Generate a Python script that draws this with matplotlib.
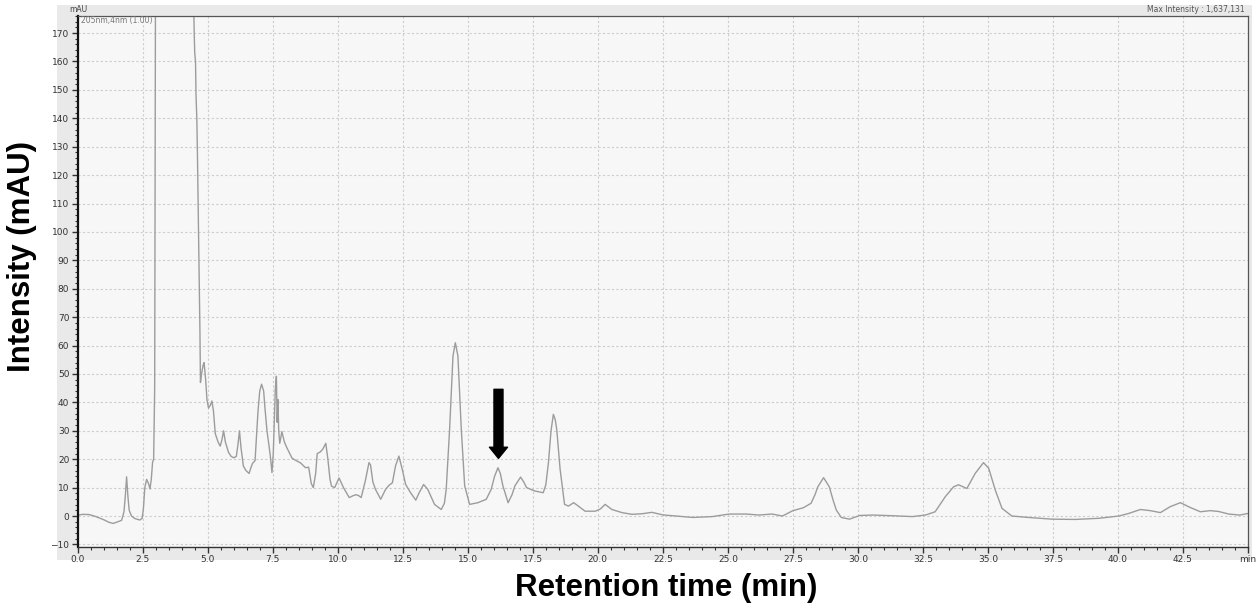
import numpy as np
import matplotlib
matplotlib.use('Agg')
import matplotlib.pyplot as plt
from matplotlib.patches import Rectangle
from matplotlib.ticker import MultipleLocator

# Хроматограмма
rt_min = [0.0, 0.2, 0.45, 0.7, 1.0, 1.2, 1.36, 1.55, 1.69, 1.78, 1.83, 1.88, 1.93, 1.98,
          2.07, 2.2, 2.39, 2.48, 2.53, 2.58, 2.65, 2.72, 2.78, 2.83, 2.88, 2.92, 2.96,
          2.99, 3.1, 3.7, 4.35, 4.46, 4.48, 4.50, 4.53, 4.55, 4.58, 4.60, 4.66, 4.70,
          4.72, 4.76, 4.82, 4.86, 4.92, 4.97, 5.03, 5.1, 5.16, 5.22, 5.29, 5.4, 5.48,
          5.55, 5.61, 5.68, 5.8, 5.9, 6.0, 6.1, 6.16, 6.22, 6.28, 6.37, 6.47, 6.59,
          6.66, 6.72, 6.82, 6.93, 7.0, 7.07, 7.15, 7.2, 7.28, 7.4, 7.47, 7.52, 7.56,
          7.6, 7.64, 7.67, 7.7, 7.73, 7.77, 7.85, 7.95, 8.05, 8.24, 8.4, 8.57, 8.76,
          8.88, 8.98, 9.06, 9.15, 9.21, 9.32, 9.42, 9.54, 9.62, 9.7, 9.76, 9.88, 10.05,
          10.22, 10.44, 10.6, 10.7, 10.8, 10.9, 11.06, 11.2, 11.26, 11.35, 11.45, 11.65,
          11.84, 11.97, 12.1, 12.22, 12.35, 12.48, 12.61, 12.8, 13.0, 13.13, 13.3, 13.46,
          13.72, 13.98, 14.1, 14.17, 14.3, 14.43, 14.52, 14.62, 14.75, 14.88, 15.07,
          15.39, 15.71, 15.9, 16.03, 16.16, 16.25, 16.35, 16.55, 16.7, 16.81, 17.03,
          17.15, 17.26, 17.58, 17.9, 18.0, 18.1, 18.2, 18.29, 18.36, 18.42, 18.55,
          18.72, 18.87, 19.07, 19.25, 19.51, 19.9, 20.1, 20.28, 20.54, 20.93, 21.31,
          21.7, 22.08, 22.5, 23.0, 23.65, 24.4, 25.05, 25.7, 26.2, 26.7, 27.1, 27.5,
          27.9, 28.2, 28.35, 28.46, 28.68, 28.9, 29.05, 29.17, 29.36, 29.68, 30.07,
          30.58, 31.35, 32.1, 32.6, 32.97, 33.36, 33.68, 33.87, 34.19, 34.51, 34.83,
          35.03, 35.28, 35.54, 35.92, 36.56, 37.46, 38.36, 39.26, 40.03, 40.41, 40.86,
          41.24, 41.63, 42.01, 42.4, 42.78, 43.17, 43.55, 43.87, 44.26, 44.68, 45.0]
intensity_mau = [0.3, 0.6, 0.5, -0.2, -1.3, -2.2, -2.6, -2.0, -1.5, 1.5, 7.0, 13.8, 7.0, 2.0,
                 0.0, -0.9, -1.4, -0.8, 3.0, 10.0, 12.9, 11.5, 9.5, 13.0, 19.0, 20.0, 45.0,
                 180.0, 700.0, 1637.0, 700.0, 180.0, 170.0, 163.0, 160.0, 148.0, 140.0, 130.0, 90.0, 65.0,
                 47.0, 50.0, 53.0, 54.0, 48.0, 41.0, 38.0, 39.0, 40.5, 37.0, 29.0, 26.0, 24.6,
                 27.0, 30.0, 26.0, 22.4, 21.0, 20.5, 21.0, 25.0, 30.0, 24.0, 17.6, 16.0, 15.0,
                 17.0, 18.5, 19.5, 36.5, 44.0, 46.4, 44.0, 38.0, 29.9, 21.7, 15.3, 22.0, 33.0,
                 45.0, 49.2, 33.0, 41.0, 30.0, 25.6, 29.7, 26.0, 23.9, 20.4, 19.5, 18.7, 17.0,
                 17.2, 11.5, 10.0, 15.0, 22.0, 22.5, 23.5, 25.6, 20.0, 13.0, 10.5, 10.0, 13.4,
                 10.0, 6.5, 7.2, 7.5, 7.2, 6.5, 12.4, 18.8, 18.0, 12.0, 9.4, 5.9,
                 9.4, 10.8, 11.7, 17.6, 21.1, 16.4, 11.1, 8.2, 5.6, 8.2, 11.1, 9.4,
                 4.1, 2.3, 4.5, 9.4, 30.5, 56.3, 61.0, 56.3, 30.5, 10.6, 4.1,
                 4.7, 5.9, 9.4, 14.0, 17.0, 15.0, 10.6, 4.7, 7.5, 10.6, 13.7,
                 12.0, 10.0, 8.8, 8.2, 11.0, 18.7, 30.0, 35.8, 34.0, 30.5, 16.4,
                 4.1, 3.5, 4.7, 3.5, 1.7, 1.7, 2.5, 4.1, 2.3, 1.2, 0.6,
                 0.8, 1.3, 0.4, 0.0, -0.5, -0.2, 0.7, 0.7, 0.35, 0.7, 0.0, 1.9,
                 2.9, 4.5, 7.5, 10.3, 13.5, 10.3, 5.5, 2.1, -0.5, -1.1, 0.2,
                 0.35, 0.1, -0.2, 0.35, 1.5, 6.8, 10.3, 11.0, 9.7, 15.0, 18.8,
                 16.8, 9.2, 2.7, 0.0, -0.5, -1.1, -1.2, -0.8, 0.0, 0.9, 2.3,
                 1.9, 1.2, 3.3, 4.7, 3.0, 1.5, 1.9, 1.6, 0.7, 0.35, 0.9]

x_ticks = np.arange(0, 45.01, 2.5)
x_labels = [f'{v:.1f}' for v in x_ticks[:-1]] + ['min']
y_ticks = np.arange(-10, 171, 10)

arrow_rt = 16.18
arrow_from, arrow_to = 44.6, 20.3

fig = plt.figure(figsize=(12.59, 6.08), dpi=100)
fig.patch.set_facecolor('white')

# серая рамка программы
W, H = 1259, 608
frame = Rectangle((57 / W, 1 - 560 / H), (1252 - 57) / W, (560 - 5) / H,
                  transform=fig.transFigure, facecolor='#e9e9e9', edgecolor='none')
frame.set_zorder(-10)
fig.add_artist(frame)

ax = fig.add_axes([77.7 / W, 1 - 547 / H, (1248 - 77.7) / W, (547 - 16) / H])
ax.set_zorder(1)
ax.set_facecolor('#f7f7f7')
ax.plot(rt_min, intensity_mau, color='#9c9c9c', linewidth=1.0)
ax.set_xlim(0, 45)
ax.set_ylim(-10.9, 176.0)

ax.set_xticks(x_ticks)
ax.set_xticklabels(x_labels)
ax.set_yticks(y_ticks)
ax.xaxis.set_minor_locator(MultipleLocator(0.5))
ax.yaxis.set_minor_locator(MultipleLocator(2))
ax.tick_params(which='major', direction='out', length=4, width=1, labelsize=6.5,
               colors='#333333', pad=2)
ax.tick_params(which='minor', direction='out', length=2, width=0.8, colors='#333333')
ax.grid(True, which='major', linestyle=(0, (2, 2)), color='#cdcdcd', linewidth=0.8)

ax.spines['left'].set_linewidth(1.6)
ax.spines['left'].set_color('#111111')
ax.spines['bottom'].set_linewidth(1.0)
ax.spines['bottom'].set_color('#333333')
for s in ['top', 'right']:
    ax.spines[s].set_linewidth(0.9)
    ax.spines[s].set_color('#555555')

ax.annotate('', xy=(arrow_rt, arrow_to), xytext=(arrow_rt, arrow_from),
            arrowprops=dict(facecolor='black', edgecolor='black', width=6.5,
                            headwidth=13, headlength=8, shrink=0))

fig.text(78 / W, 1 - 9 / H, 'mAU', fontsize=5.5, color='#444444', ha='center', va='center')
fig.text(81 / W, 1 - 20 / H, '205nm,4nm (1.00)', fontsize=5.5, color='#777777',
         ha='left', va='center')
fig.text(1245 / W, 1 - 9 / H, 'Max Intensity : 1,637,131', fontsize=5.5, color='#555555',
         ha='right', va='center')

fig.text(22 / W, 1 - 257 / H, 'Intensity (mAU)', rotation=90, fontsize=22.5,
         fontweight='bold', family='Liberation Sans', ha='center', va='center')
fig.text(666 / W, 1 - 588 / H, 'Retention time (min)', fontsize=22.5,
         fontweight='bold', family='Liberation Sans', ha='center', va='center')

fig.savefig('out.png', dpi=100)
